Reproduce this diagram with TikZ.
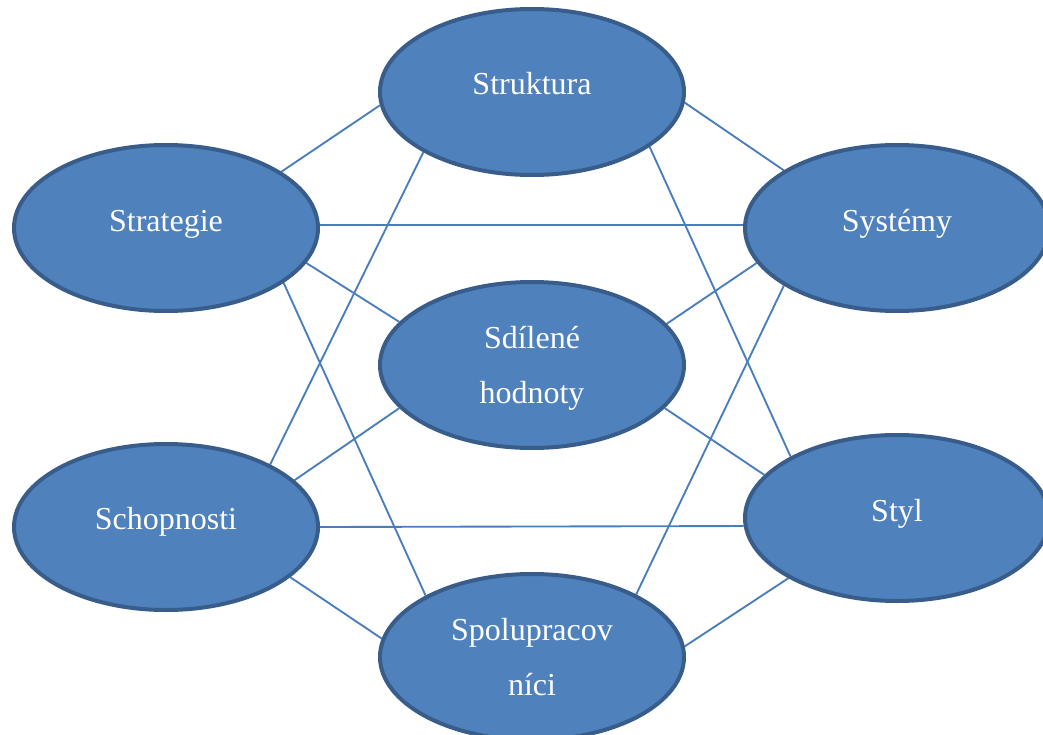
\documentclass[tikz,border=0pt]{standalone}
\usepackage{fontspec}
\setmainfont{Liberation Serif}
\usetikzlibrary{shapes.geometric,backgrounds}
\definecolor{ovalfill}{HTML}{4F81BD}
\definecolor{ovaldraw}{HTML}{385D8A}
\definecolor{linkcol}{HTML}{4A7EBB}
\begin{document}
\begin{tikzpicture}[x=0.75pt,y=-0.75pt,
  oval/.style={ellipse,draw=ovaldraw,fill=ovalfill,line width=3pt,
    minimum width=228pt,minimum height=124.5pt,inner sep=0pt},
  lbl/.style={anchor=base,text=white,font=\fontsize{24}{24}\selectfont,inner sep=0pt},
  link/.style={draw=linkcol,line width=1.4pt}]
\useasboundingbox (0,0) rectangle (1043,735);
\clip (0,0) rectangle (1043,735);
\node[oval] (struktura) at (532,92) {};
\node[oval] (strategie) at (166,228) {};
\node[oval] (systemy) at (897,228) {};
\node[oval] (hodnoty) at (532,365) {};
\node[oval] (schopnosti) at (166,527) {};
\node[oval] (styl) at (897,518) {};
\node[oval] (spolu) at (532,657) {};
\begin{scope}[on background layer]
\draw[link] (struktura.185) -- (strategie.26);
\draw[link] (struktura.-4) -- (systemy.153);
\draw[link] (struktura.209) -- (schopnosti.31);
\draw[link] (struktura.335) -- (styl.150);
\draw[link] (strategie.1) -- (systemy.179);
\draw[link] (strategie.346) -- (hodnoty.162);
\draw[link] (strategie.335) -- (spolu.150);
\draw[link] (systemy.194) -- (hodnoty.17);
\draw[link] (systemy.207) -- (spolu.31);
\draw[link] (hodnoty.198) -- (schopnosti.20);
\draw[link] (hodnoty.342) -- (styl.162);
\draw[link] (schopnosti.0) -- (styl.183);
\draw[link] (schopnosti.338) -- (spolu.173);
\draw[link] (styl.209) -- (spolu.4);
\end{scope}
\node[lbl] (struktura-t) at (532,95) {Struktura};
\node[lbl] (strategie-t) at (166,231) {Strategie};
\node[lbl] (systemy-t) at (897,231) {Systémy};
\node[lbl] (hodnoty-t1) at (532,348) {Sdílené};
\node[lbl] (hodnoty-t2) at (532,403) {hodnoty};
\node[lbl] (schopnosti-t) at (166,529) {Schopnosti};
\node[lbl] (styl-t) at (897,521) {Styl};
\node[lbl] (spolu-t1) at (532,640) {Spolupracov};
\node[lbl] (spolu-t2) at (532,695) {níci};
\end{tikzpicture}
\end{document}
